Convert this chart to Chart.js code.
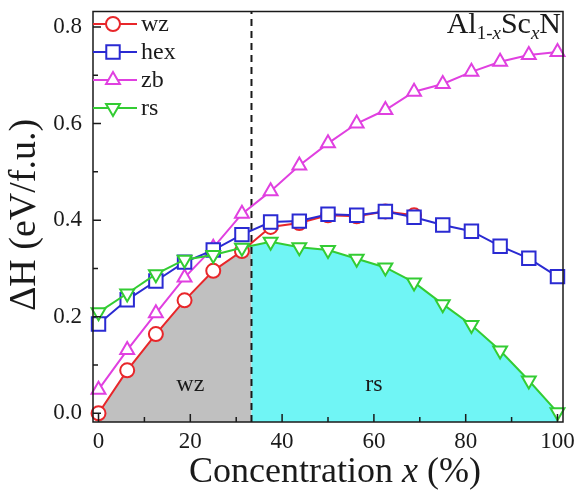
<!DOCTYPE html>
<html lang="en">
  <head>
    <meta charset="UTF-8" />
    <title>Al1-xScxN mixing enthalpy</title>
    <script src="https://cdn.jsdelivr.net/npm/chart.js@4"></script>
    <style>
      body { margin: 0; background: #fff; }
    </style>
  </head>
  <body>
    <canvas id="myChart" width="576" height="493"></canvas>
    <script>
      // Sc concentration x (%) and formation enthalpy (eV/f.u.) per phase
      const concentration = [0, 6.25, 12.5, 18.75, 25, 31.25, 37.5, 43.75, 50, 56.25, 62.5, 68.75, 75, 81.25, 87.5, 93.75, 100];
      const wz = [0.0, 0.089, 0.164, 0.234, 0.295, 0.336, 0.386, 0.394, 0.41, 0.408, 0.418, 0.41];
      const hex = [0.185, 0.235, 0.274, 0.313, 0.338, 0.37, 0.396, 0.398, 0.412, 0.41, 0.418, 0.406, 0.39, 0.377, 0.346, 0.321, 0.283];
      const zb = [0.049, 0.131, 0.207, 0.281, 0.343, 0.413, 0.46, 0.513, 0.559, 0.6, 0.628, 0.666, 0.682, 0.707, 0.728, 0.742, 0.748];
      const rs = [0.209, 0.248, 0.288, 0.318, 0.328, 0.343, 0.355, 0.344, 0.338, 0.32, 0.302, 0.271, 0.226, 0.183, 0.13, 0.068, 0.002];

      const xTicks = [0, 20, 40, 60, 80, 100];
      const xMinor = [10, 30, 50, 70, 90];
      const yTicks = [0, 0.2, 0.4, 0.6, 0.8];
      const yMinor = [0.1, 0.3, 0.5, 0.7];
      const boundary = 33.33; // wz -> rs crossover
      const regionLabels = [
        { text: "wz", x: 20, y: 0.06 },
        { text: "rs", x: 60, y: 0.06 },
      ];

      const serif = '"Liberation Serif", "DejaVu Serif", serif';
      const ink = "#1a1a1a";

      const series = [
        { label: "wz", data: wz, color: "#e8262a", style: "circle", radius: 7, rot: 0, order: 2 },
        { label: "hex", data: hex, color: "#2a2ad2", style: "rect", radius: 9.5, rot: 0, order: 1 },
        { label: "zb", data: zb, color: "#e040e0", style: "triangle", radius: 8, rot: 0, order: 3 },
        { label: "rs", data: rs, color: "#33cc33", style: "triangle", radius: 8, rot: 180, order: 0 },
      ];

      function fillUnder(chart, index, left, right, color) {
        const { ctx, chartArea } = chart;
        const pts = chart.getDatasetMeta(index).data;
        ctx.save();
        ctx.beginPath();
        ctx.rect(left, chartArea.top, right - left, chartArea.bottom - chartArea.top);
        ctx.clip();
        ctx.beginPath();
        ctx.moveTo(pts[0].x, chartArea.bottom);
        pts.forEach((p) => ctx.lineTo(p.x, p.y));
        ctx.lineTo(pts[pts.length - 1].x, chartArea.bottom);
        ctx.closePath();
        ctx.fillStyle = color;
        ctx.fill();
        ctx.restore();
      }

      function marker(ctx, s, x, y) {
        ctx.save();
        ctx.fillStyle = "#fff";
        ctx.strokeStyle = s.color;
        ctx.lineWidth = 2;
        Chart.helpers.drawPoint(ctx, { pointStyle: s.style, rotation: s.rot, radius: s.radius, borderWidth: 2 }, x, y);
        ctx.restore();
      }

      const decor = {
        id: "decor",
        beforeDatasetsDraw(chart) {
          const { ctx, chartArea: a, scales } = chart;
          const xb = scales.x.getPixelForValue(boundary);
          fillUnder(chart, 0, a.left, xb, "#c0c0c0");
          fillUnder(chart, 3, xb, a.right, "#70f5f5");

          ctx.save();
          ctx.strokeStyle = ink;
          ctx.lineWidth = 2;
          ctx.setLineDash([7, 5]);
          ctx.beginPath();
          ctx.moveTo(xb, a.bottom);
          ctx.lineTo(xb, a.top);
          ctx.stroke();
          ctx.restore();

          ctx.save();
          ctx.fillStyle = ink;
          ctx.font = "24px " + serif;
          ctx.textAlign = "center";
          ctx.textBaseline = "middle";
          regionLabels.forEach((r) => {
            ctx.fillText(r.text, scales.x.getPixelForValue(r.x), scales.y.getPixelForValue(r.y));
          });
          ctx.restore();
        },
        afterDraw(chart) {
          const { ctx, chartArea: a, scales } = chart;
          ctx.save();
          // frame
          ctx.strokeStyle = ink;
          ctx.lineWidth = 1.5;
          ctx.strokeRect(a.left, a.top, a.right - a.left, a.bottom - a.top);
          // inward ticks
          ctx.beginPath();
          const tick = (vals, len, isX) => {
            vals.forEach((v) => {
              if (isX) {
                const px = scales.x.getPixelForValue(v);
                ctx.moveTo(px, a.bottom);
                ctx.lineTo(px, a.bottom - len);
              } else {
                const py = scales.y.getPixelForValue(v);
                ctx.moveTo(a.left, py);
                ctx.lineTo(a.left + len, py);
              }
            });
          };
          tick(xTicks, 8, true);
          tick(xMinor, 5, true);
          tick(yTicks, 8, false);
          tick(yMinor, 5, false);
          ctx.stroke();

          // legend
          ctx.font = "24px " + serif;
          ctx.textBaseline = "middle";
          ctx.textAlign = "left";
          series.forEach((s, i) => {
            const y = 24 + i * 28;
            ctx.strokeStyle = s.color;
            ctx.lineWidth = 2;
            ctx.beginPath();
            ctx.moveTo(a.left, y);
            ctx.lineTo(a.left + 44, y);
            ctx.stroke();
            marker(ctx, s, a.left + 20, y);
            ctx.fillStyle = ink;
            ctx.fillText(s.label, a.left + 48, y + 1);
          });

          // formula Al(1-x)Sc(x)N, right aligned
          const big = "30px " + serif;
          const small = "19px " + serif;
          const smallIt = "italic 19px " + serif;
          const parts = [
            { t: "Al", f: big, dy: 0 },
            { t: "1-", f: small, dy: 6 },
            { t: "x", f: smallIt, dy: 6 },
            { t: "Sc", f: big, dy: 0 },
            { t: "x", f: smallIt, dy: 6 },
            { t: "N", f: big, dy: 0 },
          ];
          let w = 0;
          parts.forEach((p) => { ctx.font = p.f; p.w = ctx.measureText(p.t).width; w += p.w; });
          let fx = a.right - 2 - w;
          ctx.textBaseline = "alphabetic";
          ctx.fillStyle = ink;
          parts.forEach((p) => { ctx.font = p.f; ctx.fillText(p.t, fx, 33 + p.dy); fx += p.w; });

          // x title with italic x
          const xt = [
            { t: "Concentration ", f: "36px " + serif },
            { t: "x", f: "italic 36px " + serif },
            { t: " (%)", f: "36px " + serif },
          ];
          w = 0;
          xt.forEach((p) => { ctx.font = p.f; p.w = ctx.measureText(p.t).width; w += p.w; });
          fx = 335 - w / 2;
          xt.forEach((p) => { ctx.font = p.f; ctx.fillText(p.t, fx, 482); fx += p.w; });

          // y title
          ctx.translate(25, 215);
          ctx.rotate(-Math.PI / 2);
          ctx.textAlign = "center";
          ctx.textBaseline = "middle";
          ctx.font = "38px " + serif;
          ctx.fillText("\u0394H (eV/f.u.)", 0, 0);
          ctx.restore();
        },
      };

      const ctx = document.getElementById("myChart").getContext("2d");
      const myChart = new Chart(ctx, {
        type: "line",
        data: {
          datasets: series.map((s) => ({
            label: s.label,
            data: s.data.map((v, i) => ({ x: concentration[i], y: v })),
            borderColor: s.color,
            borderWidth: 2,
            backgroundColor: "#fff",
            pointStyle: s.style,
            pointRotation: s.rot,
            pointRadius: s.radius,
            pointBorderWidth: 2,
            pointBackgroundColor: "#fff",
            pointBorderColor: s.color,
            tension: 0,
            fill: false,
            clip: false,
            order: s.order,
          })),
        },
        options: {
          responsive: false,
          animation: false,
          devicePixelRatio: 1,
          layout: { padding: { top: 9, right: 13, left: 0, bottom: 0 } },
          plugins: { legend: { display: false }, tooltip: { enabled: false } },
          scales: {
            x: {
              type: "linear",
              min: -1.2,
              max: 101.2,
              afterBuildTicks: (s) => { s.ticks = xTicks.map((v) => ({ value: v })); },
              afterFit: (s) => { s.height = 71; s.paddingLeft = 0; s.paddingRight = 0; },
              grid: { display: false, drawTicks: false },
              border: { display: false },
              ticks: { color: ink, font: { family: serif, size: 23 }, padding: 6, maxRotation: 0 },
            },
            y: {
              min: -0.018,
              max: 0.832,
              afterBuildTicks: (s) => { s.ticks = yTicks.map((v) => ({ value: v })); },
              afterFit: (s) => { s.width = 93; s.paddingTop = 0; s.paddingBottom = 0; },
              grid: { display: false, drawTicks: false },
              border: { display: false },
              ticks: {
                color: ink,
                font: { family: serif, size: 23 },
                padding: 11,
                callback: (v) => v.toFixed(1),
              },
            },
          },
        },
        plugins: [decor],
      });
    </script>
  </body>
</html>
